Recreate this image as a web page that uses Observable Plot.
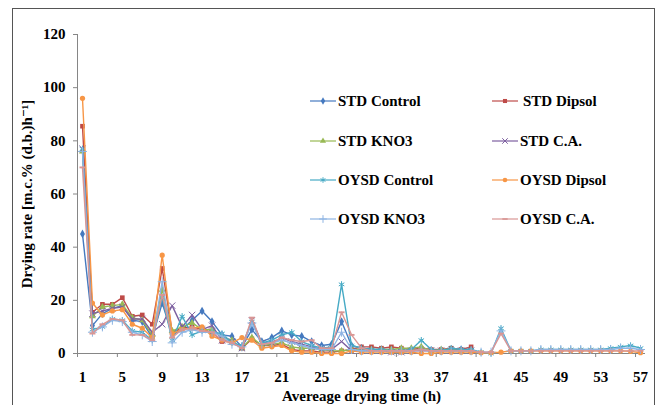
<!DOCTYPE html>
<html><head><meta charset="utf-8">
<script src="https://cdn.jsdelivr.net/npm/d3@7"></script>
<script src="https://cdn.jsdelivr.net/npm/@observablehq/plot@0.6"></script>
<style>
body{margin:0;background:#fff;}
#wrap{position:relative;width:661px;height:405px;overflow:hidden;font-family:'Liberation Serif','Times New Roman',Times,'DejaVu Serif',serif;font-weight:bold;}
#border{position:absolute;left:12px;top:8px;width:643px;height:430px;border:1.5px solid #555;box-sizing:border-box;pointer-events:none;}
.item{position:absolute;font-size:15px;line-height:16px;height:16px;color:#000;white-space:nowrap;display:flex;align-items:center;}
.item svg{display:block;margin-right:1px;}
#wrap svg text{font-family:'Liberation Serif','Times New Roman',Times,'DejaVu Serif',serif;font-weight:bold;}
</style></head>
<body><div id="wrap"><div id="border"></div></div>
<script>
const hours = [1,2,3,4,5,6,7,8,9,10,11,12,13,14,15,16,17,18,19,20,21,22,23,24,25,26,27,28,29,30,31,32,33,34,35,36,37,38,39,40,41,42,43,44,45,46,47,48,49,50,51,52,53,54,55,56,57];
const xTickLabels = [1,5,9,13,17,21,25,29,33,37,41,45,49,53,57];
const xTickMarks = [0.5,4.5,8.5,12.5,16.5,20.5,24.5,28.5,32.5,36.5,40.5,44.5,48.5,52.5,56.5];
const yTicks = [0,20,40,60,80,100,120];

const seriesNames = ["STD Control","STD Dipsol","STD KNO3","STD C.A.","OYSD Control","OYSD Dipsol","OYSD KNO3","OYSD C.A."];
const seriesColors = ["#4579BF","#BE4B48","#98B954","#7D60A0","#46AAC5","#F79646","#8EB4E3","#D99694"];
const seriesSymbols = ["diamond","square","triangle","times","asterisk","circle","plus","dash"];

const stdControl = [45,10.5,15,17,18,12.5,12,6,19,7,9,12.5,16,12,7,6.5,2.5,9,4.5,6,8.5,7,6.5,4.5,3,3.5,12,3,2,1.5,1.5,1.5,1,1,1.5,1,1,1.5,1.5,1.5];
const stdDipsol = [85.5,15.5,18.5,18.5,21,14,14.5,11,32,8,9.5,10,9,8,4.5,4.5,2,5.5,3,3,3.5,1.5,1,1,0.5,0.5,1,1.5,2.5,2.5,2,2.5,2,1.5,2,1.5,1.5,2,1.5,2.5];
const stdKNO3 = [76,14,17.5,18,18.5,13.5,12.5,7,24,8.5,10,11.5,9,9,6,5,2,6,3,3.5,4,2.5,2,2,1.5,1,1,1.5,1.5,1.5,1.5,1.5,2,2,2.5,1,1.5,1.5,1,1];
const stdCA = [77,15,16,17,17.5,13,13,8,11,18,10,14.5,9,10.5,5,4.5,2,12.5,4,4,6,4.5,3.5,2.5,1.5,1.5,4.5,1,1,1,1,0.5,0.5,1,1,1,1,1,1,1];
const oysdControl = [77,9,10,13,12.5,8.5,8,5,21,5,14,7,8.5,8,7.5,4,3,12,4,5,7,8,4.5,3,2,2.5,26,3,2,1.5,1.5,1,1,1.5,5,1.5,1,2,1.5,1.5,0.5,0,9.5,1,1,1,1.5,1.5,1.5,1.5,1.5,1.5,1.5,2,2.5,3,2];
const oysdDipsol = [96,19,14.5,16,16.5,11,9.5,6,37,7.5,9,9.5,10,6.5,5,4,6,5,2,2.5,3,1,0.5,0.5,0,0,0,1,0.5,0.5,0.5,0.5,0.5,0.5,0,0,0.5,0.5,0.5,0.5,0.3,0.3,0.5,1,1,1,1,1,1,1,1,1,1,1,1,0.8,0.3];
const oysdKNO3 = [76,8,10,12.5,12,8,7,4.5,27,4,8,9,8,8,6.5,3.5,2.5,11.5,3.5,4,5,4,3,2,1.5,1.5,8,1.5,1,1,1,1,1,1,1.5,1,1,1,1,1,0.5,0.5,8.5,1,1,1,1.5,1.5,1.5,1.5,1.5,1.5,1.5,1.5,2,2,1.5];
const oysdCA = [70,7.5,11,13,12.5,7,7,5,22,6,9,9.5,8.5,8,5,4,2,13.5,3.5,4,6,5,4.5,5,2,2,15.5,7,2,1,1,1,1,1,1.5,1,1,1,1,1,0.5,0.5,7.5,1,1,1,1,1,1,1,1,1,1,1,1,1,1];
const seriesValues = [stdControl,stdDipsol,stdKNO3,stdCA,oysdControl,oysdDipsol,oysdKNO3,oysdCA];

const yLabel = "Drying rate [m.c.% (d.b.)h\u207B\u00B9]";
const xLabel = "Avereage drying time (h)";

const dashSymbol = {draw(ctx, size){ const w = Math.sqrt(size) * 1.3, h = w / 3.2; ctx.moveTo(-w/2,-h/2); ctx.lineTo(w/2,-h/2); ctx.lineTo(w/2,h/2); ctx.lineTo(-w/2,h/2); ctx.closePath(); }};
const strokeSyms = new Set(["times","asterisk","plus"]);
function symOf(s){ return s === "dash" ? dashSymbol : s; }
const d3Sym = {diamond:d3.symbolDiamond, square:d3.symbolSquare, triangle:d3.symbolTriangle, times:d3.symbolTimes, asterisk:d3.symbolAsterisk, circle:d3.symbolCircle, plus:d3.symbolPlus, dash:dashSymbol};

const xDomain = [hours[0]-0.5, hours[hours.length-1]+0.5];
const yDomain = [yTicks[0], yTicks[yTicks.length-1]];

const marks = [];
marks.push(Plot.ruleX([xDomain[0]], {stroke:"#868686", strokeWidth:1}));
marks.push(Plot.ruleY([yDomain[0]], {stroke:"#868686", strokeWidth:1}));
marks.push(Plot.axisY({ticks:yTicks, tickSize:4, tickPadding:8, stroke:"#868686", fontSize:15, fontWeight:"bold", fill:"#000", label:null}));
marks.push(Plot.axisX({ticks:xTickMarks, tickSize:4, stroke:"#868686", text:null, label:null}));
marks.push(Plot.axisX({ticks:xTickLabels, tickSize:0, tickPadding:18, fontSize:15, fontWeight:"bold", fill:"#000", label:null}));

seriesNames.forEach((name, i) => {
  const rows = [];
  seriesValues[i].forEach((v, j) => { if (v != null) rows.push({hour: hours[j], value: v}); });
  marks.push(Plot.line(rows, {x:"hour", y:"value", stroke:seriesColors[i], strokeWidth:1.4}));
  const isStroke = strokeSyms.has(seriesSymbols[i]);
  marks.push(Plot.dot(rows, {x:"hour", y:"value", symbol: () => symOf(seriesSymbols[i]), r: isStroke ? 3 : 2.6,
    fill: isStroke ? "none" : seriesColors[i], stroke: isStroke ? seriesColors[i] : "none", strokeWidth: 1}));
});

marks.push(Plot.text([yLabel], {frameAnchor:"left", textAnchor:"middle", lineAnchor:"middle", dx:-50, rotate:-90, fontSize:15, fontWeight:"bold", fill:"#000"}));
marks.push(Plot.text([xLabel], {frameAnchor:"bottom", textAnchor:"middle", lineAnchor:"middle", dy:43, fontSize:15, fontWeight:"bold", fill:"#000"}));

const chart = Plot.plot({
  width: 661, height: 405,
  marginLeft: 77, marginRight: 16, marginTop: 34, marginBottom: 52,
  x: {type:"linear", domain: xDomain},
  y: {domain: yDomain},
  style: {background:"transparent", overflow:"visible", fontFamily:"'Liberation Serif','Times New Roman',Times,'DejaVu Serif',serif"},
  marks
});
const wrap = document.getElementById("wrap");
wrap.insertBefore(chart, wrap.firstChild);

// legend
const colX = [310, 492];
const rowY = [101, 141, 180, 219];
seriesNames.forEach((name, i) => {
  const col = i % 2, row = Math.floor(i / 2);
  const div = document.createElement("div");
  div.className = "item";
  div.style.left = colX[col] + "px";
  div.style.top = (rowY[row] - 8) + "px";
  const svg = d3.create("svg").attr("width", 27).attr("height", 16);
  svg.append("line").attr("x1",0).attr("x2",26).attr("y1",8).attr("y2",8).attr("stroke",seriesColors[i]).attr("stroke-width",1.2);
  const isStroke = strokeSyms.has(seriesSymbols[i]);
  const r = isStroke ? 2.6 : 2.3;
  svg.append("path").attr("transform","translate(13,8)")
    .attr("d", d3.symbol(d3Sym[seriesSymbols[i]], Math.PI * r * r)())
    .attr("fill", isStroke ? "none" : seriesColors[i]).attr("stroke", isStroke ? seriesColors[i] : "none");
  div.appendChild(svg.node());
  const span = document.createElement("span");
  span.textContent = name;
  if (name === "STD Dipsol") span.style.marginLeft = "3px";
  div.appendChild(span);
  wrap.appendChild(div);
});
</script>
</body></html>
